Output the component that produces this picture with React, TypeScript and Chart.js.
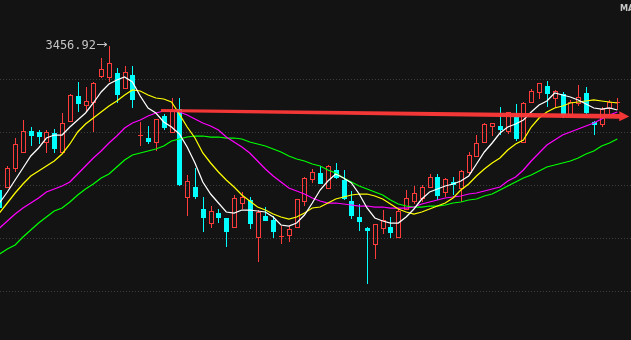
import React, { useEffect, useRef } from "react";
import { Chart, registerables } from "chart.js";

Chart.register(...registerables);

// ---- Data (index-based trading days) ----
const candleOpen = [3169,3175,3213,3245,3287,3285,3265,3283,3245,3307, 3357,3339,3345,3397,3395,3403,3373,3399,3277,3273, 3265,3317,3285,3331,3155,3175,3131,3103,3123,3113, 3095,3143,3149,3075,3117,3109,3075,3079,3095,3147, 3191,3203,3173,3209,3189,3147,3115,3093,3061,3093, 3095,3075,3131,3147,3153,3175,3195,3165,3185,3173, 3205,3237,3265,3297,3297,3287,3315,3265,3345,3365, 3377,3353,3361,3319,3343,3363,3305,3301,3333,3345];
const candleHigh = [3169,3217,3273,3309,3295,3289,3289,3291,3323,3361, 3385,3375,3385,3433,3456.92,3413,3417,3417,3305,3297, 3311,3321,3353,3353,3199,3213,3155,3137,3131,3113, 3159,3165,3155,3129,3135,3117,3097,3097,3151,3195, 3211,3217,3219,3223,3209,3167,3141,3095,3101,3129, 3115,3133,3169,3177,3179,3201,3201,3193,3195,3209, 3245,3279,3303,3303,3335,3325,3341,3345,3371,3383, 3387,3369,3365,3349,3379,3375,3307,3335,3349,3353];
const candleLow = [3079,3175,3205,3243,3257,3261,3243,3243,3245,3307, 3325,3325,3285,3393,3385,3343,3371,3333,3257,3261, 3247,3289,3285,3177,3117,3151,3085,3093,3103,3055, 3095,3131,3091,3025,3107,3073,3061,3065,3095,3137, 3183,3181,3173,3191,3149,3111,3087,2981,3031,3081, 3073,3075,3129,3141,3145,3175,3149,3155,3159,3145, 3199,3235,3265,3277,3279,3281,3267,3265,3343,3351, 3335,3333,3313,3319,3337,3321,3279,3295,3317,3329];
const candleClose = [3135,3213,3261,3287,3279,3277,3285,3253,3303,3359, 3343,3347,3383,3411,3423,3361,3405,3351,3279,3267, 3311,3295,3327,3181,3187,3157,3115,3127,3115,3087, 3153,3155,3103,3125,3109,3087,3077,3091,3151,3193, 3205,3183,3217,3195,3153,3119,3107,3089,3101,3109, 3085,3127,3153,3163,3175,3195,3159,3191,3181,3207, 3239,3263,3301,3303,3291,3325,3273,3343,3367,3383, 3363,3367,3321,3345,3355,3325,3301,3331,3345,3345];

const ma5 = [3143,3165,3189,3213,3237,3253,3273,3279,3279,3295, 3309,3323,3343,3365,3381,3389,3395,3385,3357,3333, 3323,3305,3295,3281,3255,3223,3185,3161,3143,3125, 3123,3129,3129,3127,3125,3115,3099,3097,3103,3119, 3143,3169,3187,3201,3193,3183,3161,3133,3113,3107, 3103,3103,3115,3131,3151,3165,3171,3177,3181,3187, 3197,3221,3245,3263,3283,3295,3301,3309,3325,3339, 3347,3363,3359,3355,3349,3341,3333,3331,3333,3329];
const ma10 = [3123,3143,3163,3181,3197,3207,3217,3227,3241,3261, 3285,3301,3313,3325,3337,3347,3359,3369,3367,3359, 3353,3351,3345,3321,3295,3273,3243,3223,3205,3189, 3175,3159,3147,3135,3129,3121,3115,3111,3115,3123, 3133,3135,3143,3151,3155,3159,3161,3161,3157,3151, 3141,3131,3125,3121,3125,3131,3137,3143,3153,3169, 3181,3197,3211,3223,3233,3249,3261,3269,3295,3313, 3325,3333,3337,3343,3345,3347,3349,3347,3345,3343];
const ma20 = [3093,3107,3121,3133,3143,3153,3165,3171,3177,3185, 3201,3217,3233,3247,3263,3277,3293,3303,3309,3317, 3323,3327,3327,3325,3319,3311,3303,3297,3289,3275, 3265,3255,3243,3227,3211,3197,3185,3173,3167,3161, 3153,3147,3143,3143,3141,3139,3137,3137,3135,3135, 3133,3133,3133,3135,3141,3145,3149,3153,3155,3157, 3161,3163,3167,3171,3175,3187,3195,3209,3227,3243, 3259,3269,3279,3285,3291,3297,3303,3311,3319,3325];
const ma30 = [3041,3051,3059,3075,3089,3103,3115,3127,3133,3145, 3159,3171,3181,3193,3201,3215,3229,3239,3243,3247, 3251,3257,3267,3271,3275,3277,3277,3275,3275,3273, 3273,3271,3265,3261,3257,3251,3245,3237,3231,3227, 3221,3217,3209,3203,3193,3185,3177,3171,3165,3159, 3149,3141,3137,3135,3135,3137,3137,3139,3143,3145, 3149,3151,3157,3161,3169,3177,3185,3193,3199,3207, 3215,3219,3223,3227,3233,3241,3247,3257,3263,3271];

const gridLevels = [3391, 3285, 3179, 3073, 2967];
const highLabel = "3456.92";
const highIndex = 14;
const maTitle = "MA";
const trendFrom = [20.65, 3328];
const trendTo = [80.54, 3316];

const X_MIN = 0.064;
const X_MAX = 80.758;
const Y_MIN = 2869;
const Y_MAX = 3549;

const UP = "#ff3c3c";
const DOWN = "#00ffff";

const klinePlugin = {
  id: "kline",
  beforeDraw(chart: any) {
    const { ctx, width, height } = chart;
    ctx.save();
    ctx.fillStyle = "#131313";
    ctx.fillRect(0, 0, width, height);
    const ys = chart.scales.y;
    ctx.strokeStyle = "#3e3e3e";
    ctx.lineWidth = 1;
    ctx.setLineDash([1, 2]);
    gridLevels.forEach((v) => {
      const y = Math.round(ys.getPixelForValue(v)) + 0.5;
      ctx.beginPath();
      ctx.moveTo(0, y);
      ctx.lineTo(width, y);
      ctx.stroke();
    });
    ctx.restore();
  },
  beforeDatasetsDraw(chart: any) {
    const { ctx } = chart;
    const xs = chart.scales.x;
    const ys = chart.scales.y;
    ctx.save();
    ctx.lineWidth = 1;
    for (let i = 0; i < candleOpen.length; i++) {
      const o = candleOpen[i], h = candleHigh[i], l = candleLow[i], c = candleClose[i];
      const cx = Math.round(xs.getPixelForValue(i));
      const yo = Math.round(ys.getPixelForValue(o));
      const yc = Math.round(ys.getPixelForValue(c));
      const yh = Math.round(ys.getPixelForValue(h));
      const yl = Math.round(ys.getPixelForValue(l));
      const top = Math.min(yo, yc);
      const bot = Math.max(yo, yc);
      const up = c >= o;
      if (up) {
        ctx.strokeStyle = UP;
        ctx.beginPath();
        ctx.moveTo(cx + 0.5, yh);
        ctx.lineTo(cx + 0.5, top);
        ctx.moveTo(cx + 0.5, bot);
        ctx.lineTo(cx + 0.5, yl);
        ctx.stroke();
        if (bot - top <= 1) {
          ctx.beginPath();
          ctx.moveTo(cx - 2, top + 0.5);
          ctx.lineTo(cx + 3, top + 0.5);
          ctx.stroke();
        } else {
          ctx.strokeRect(cx - 1.5, top + 0.5, 4, bot - top);
        }
      } else {
        ctx.strokeStyle = DOWN;
        ctx.fillStyle = DOWN;
        ctx.beginPath();
        ctx.moveTo(cx + 0.5, yh);
        ctx.lineTo(cx + 0.5, yl);
        ctx.stroke();
        ctx.fillRect(cx - 2, top, 5, Math.max(bot - top, 1) + 1);
      }
    }
    ctx.restore();
  },
  afterDatasetsDraw(chart: any) {
    const { ctx, width } = chart;
    const xs = chart.scales.x;
    const ys = chart.scales.y;
    ctx.save();
    // trend arrow
    const x1 = xs.getPixelForValue(trendFrom[0]);
    const y1 = ys.getPixelForValue(trendFrom[1]);
    const x2 = xs.getPixelForValue(trendTo[0]);
    const y2 = ys.getPixelForValue(trendTo[1]);
    const headLen = 10;
    const ang = Math.atan2(y2 - y1, x2 - x1);
    const bx = x2 - headLen * Math.cos(ang);
    const by = y2 - headLen * Math.sin(ang);
    const nx = -Math.sin(ang), ny = Math.cos(ang);
    ctx.fillStyle = "rgba(255,56,56,0.95)";
    ctx.beginPath();
    ctx.moveTo(x1 + nx * 1.5, y1 + ny * 1.5);
    ctx.lineTo(bx + nx * 2.3, by + ny * 2.3);
    ctx.lineTo(bx + nx * 5, by + ny * 5);
    ctx.lineTo(x2, y2);
    ctx.lineTo(bx - nx * 5, by - ny * 5);
    ctx.lineTo(bx - nx * 2.3, by - ny * 2.3);
    ctx.lineTo(x1 - nx * 1.5, y1 - ny * 1.5);
    ctx.closePath();
    ctx.fill();

    // high label
    const hx = Math.round(xs.getPixelForValue(highIndex));
    const hy = Math.round(ys.getPixelForValue(candleHigh[highIndex]));
    ctx.fillStyle = "#c4c4c4";
    ctx.strokeStyle = "#c4c4c4";
    ctx.font = '12px "DejaVu Sans Mono", monospace';
    ctx.textAlign = "right";
    ctx.textBaseline = "middle";
    ctx.fillText(highLabel, hx - 13, hy - 0.5);
    const ay = hy - 2 + 0.5;
    ctx.lineWidth = 1;
    ctx.beginPath();
    ctx.moveTo(hx - 12, ay);
    ctx.lineTo(hx - 2, ay);
    ctx.moveTo(hx - 5, ay - 2);
    ctx.lineTo(hx - 2, ay);
    ctx.lineTo(hx - 5, ay + 2);
    ctx.stroke();

    // MA title
    ctx.fillStyle = "#c8c8c8";
    ctx.font = 'bold 9px "DejaVu Sans Condensed", "DejaVu Sans", sans-serif';
    ctx.textAlign = "left";
    ctx.textBaseline = "middle";
    ctx.fillText(maTitle, width - 11, 9);
    ctx.restore();
  },
};

export default function App() {
  const ref = useRef<HTMLCanvasElement>(null);
  useEffect(() => {
    const toPts = (arr: number[]) => arr.map((v, i) => ({ x: i, y: v }));
    const chart = new Chart(ref.current as HTMLCanvasElement, {
      type: "line",
      data: {
        datasets: [
          { data: toPts(ma5), borderColor: "#ffffff", borderWidth: 1.25, pointRadius: 0 },
          { data: toPts(ma10), borderColor: "#ffff00", borderWidth: 1.25, pointRadius: 0 },
          { data: toPts(ma20), borderColor: "#ff00ff", borderWidth: 1.25, pointRadius: 0 },
          { data: toPts(ma30), borderColor: "#00ff00", borderWidth: 1.25, pointRadius: 0 },
        ],
      },
      options: {
        responsive: false,
        maintainAspectRatio: false,
        devicePixelRatio: 1,
        animation: false,
        events: [],
        layout: { padding: 0 },
        plugins: { legend: { display: false }, tooltip: { enabled: false } },
        elements: { line: { tension: 0 }, point: { radius: 0 } },
        scales: {
          x: { type: "linear", min: X_MIN, max: X_MAX, display: false },
          y: { type: "linear", min: Y_MIN, max: Y_MAX, display: false },
        },
      },
      plugins: [klinePlugin],
    } as any);
    return () => chart.destroy();
  }, []);
  return (
    <div style={{ position: "fixed", left: 0, top: 0, width: 631, height: 340, background: "#131313" }}>
      <canvas ref={ref} width={631} height={340} style={{ display: "block", width: 631, height: 340 }} />
    </div>
  );
}
